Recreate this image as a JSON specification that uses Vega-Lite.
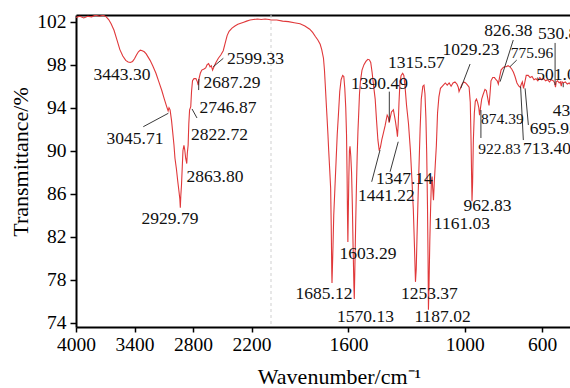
{
  "$schema": "https://vega.github.io/schema/vega-lite/v6.json",
  "width": 494,
  "height": 312,
  "autosize": {"type": "none"},
  "padding": {"left": 76, "top": 15, "right": 0, "bottom": 61},
  "background": "white",
  "config": {
    "view": {"stroke": null},
    "font": "Liberation Serif",
    "axis": {
      "grid": false,
      "domainColor": "black",
      "domainWidth": 2,
      "tickColor": "black",
      "tickWidth": 1.5,
      "labelColor": "black",
      "labelFont": "Liberation Serif",
      "labelFontSize": 19.5,
      "titleFont": "Liberation Serif",
      "titleFontWeight": "normal",
      "titleColor": "black",
      "titleFontSize": 22
    }
  },
  "datasets": {
    "spectrum": [
      {"wn":4000,"t":102.4},{"wn":3960,"t":102.5},{"wn":3920,"t":102.35},{"wn":3880,"t":102.5},{"wn":3840,"t":102.45},{"wn":3800,"t":102.6},{"wn":3760,"t":102.5},{"wn":3720,"t":102.6},{"wn":3690,"t":102.45},{"wn":3665,"t":102.2},{"wn":3640,"t":101.8},{"wn":3610,"t":101.2},{"wn":3580,"t":100.3},{"wn":3550,"t":99.4},{"wn":3520,"t":98.8},{"wn":3490,"t":98.4},{"wn":3465,"t":98.25},{"wn":3443,"t":98.2},{"wn":3420,"t":98.3},{"wn":3400,"t":98.55},{"wn":3380,"t":98.9},{"wn":3360,"t":99.2},{"wn":3340,"t":99.35},{"wn":3320,"t":99.3},{"wn":3300,"t":99.2},{"wn":3280,"t":99.0},{"wn":3260,"t":98.7},{"wn":3240,"t":98.4},{"wn":3213,"t":97.9},{"wn":3180,"t":97.2},{"wn":3150,"t":96.4},{"wn":3120,"t":95.6},{"wn":3094,"t":94.8},{"wn":3070,"t":94.1},{"wn":3055,"t":93.7},{"wn":3046,"t":94.0},{"wn":3035,"t":93.8},{"wn":3020,"t":92.8},{"wn":3008,"t":91.7},{"wn":2995,"t":90.5},{"wn":2985,"t":89.3},{"wn":2970,"t":88.3},{"wn":2957,"t":87.2},{"wn":2945,"t":86.3},{"wn":2935,"t":85.5},{"wn":2930,"t":84.7},{"wn":2925,"t":85.8},{"wn":2918,"t":86.8},{"wn":2910,"t":88.5},{"wn":2903,"t":90.0},{"wn":2893,"t":90.5},{"wn":2885,"t":90.1},{"wn":2875,"t":89.3},{"wn":2864,"t":88.8},{"wn":2858,"t":89.8},{"wn":2850,"t":90.5},{"wn":2843,"t":92.5},{"wn":2835,"t":93.8},{"wn":2823,"t":94.1},{"wn":2815,"t":95.5},{"wn":2805,"t":96.5},{"wn":2790,"t":96.7},{"wn":2770,"t":96.7},{"wn":2755,"t":96.4},{"wn":2747,"t":96.1},{"wn":2738,"t":96.7},{"wn":2725,"t":97.2},{"wn":2710,"t":97.5},{"wn":2687,"t":97.6},{"wn":2670,"t":97.7},{"wn":2655,"t":98.0},{"wn":2640,"t":98.1},{"wn":2625,"t":97.8},{"wn":2612,"t":97.9},{"wn":2599,"t":97.5},{"wn":2585,"t":97.8},{"wn":2565,"t":98.2},{"wn":2540,"t":98.6},{"wn":2515,"t":98.9},{"wn":2490,"t":99.3},{"wn":2470,"t":100.0},{"wn":2450,"t":100.7},{"wn":2430,"t":101.1},{"wn":2400,"t":101.4},{"wn":2370,"t":101.6},{"wn":2340,"t":101.75},{"wn":2310,"t":101.85},{"wn":2280,"t":101.95},{"wn":2250,"t":102.05},{"wn":2215,"t":102.15},{"wn":2180,"t":102.2},{"wn":2140,"t":102.25},{"wn":2100,"t":102.2},{"wn":2060,"t":102.25},{"wn":2020,"t":102.2},{"wn":2000,"t":102.15},{"wn":1970,"t":102.15},{"wn":1940,"t":102.05},{"wn":1910,"t":102.0},{"wn":1880,"t":101.9},{"wn":1850,"t":101.8},{"wn":1825,"t":101.6},{"wn":1800,"t":101.3},{"wn":1785,"t":101.0},{"wn":1770,"t":100.6},{"wn":1758,"t":100.3},{"wn":1746,"t":99.9},{"wn":1738,"t":99.4},{"wn":1729,"t":98.6},{"wn":1724,"t":97.5},{"wn":1720,"t":96.2},{"wn":1715,"t":94.5},{"wn":1711,"t":93.2},{"wn":1706,"t":91.5},{"wn":1702,"t":90.0},{"wn":1697,"t":88.3},{"wn":1692,"t":86.5},{"wn":1689,"t":83.0},{"wn":1686,"t":78.5},{"wn":1685,"t":77.7},{"wn":1683,"t":79.0},{"wn":1680,"t":81.0},{"wn":1676,"t":84.0},{"wn":1670,"t":86.5},{"wn":1664,"t":89.0},{"wn":1658,"t":91.5},{"wn":1652,"t":93.3},{"wn":1645,"t":95.5},{"wn":1638,"t":96.6},{"wn":1630,"t":97.0},{"wn":1624,"t":96.9},{"wn":1619,"t":95.8},{"wn":1614,"t":94.0},{"wn":1610,"t":91.5},{"wn":1607,"t":87.5},{"wn":1605,"t":84.0},{"wn":1603,"t":81.5},{"wn":1601,"t":84.0},{"wn":1598,"t":87.5},{"wn":1595,"t":90.0},{"wn":1592,"t":90.4},{"wn":1588,"t":89.5},{"wn":1584,"t":88.0},{"wn":1580,"t":85.0},{"wn":1576,"t":81.0},{"wn":1572,"t":77.5},{"wn":1570,"t":76.2},{"wn":1567,"t":79.0},{"wn":1563,"t":83.0},{"wn":1559,"t":86.5},{"wn":1555,"t":89.5},{"wn":1551,"t":91.8},{"wn":1547,"t":93.5},{"wn":1543,"t":95.3},{"wn":1538,"t":96.5},{"wn":1530,"t":97.5},{"wn":1520,"t":98.0},{"wn":1510,"t":98.3},{"wn":1500,"t":98.5},{"wn":1492,"t":98.45},{"wn":1485,"t":98.2},{"wn":1478,"t":97.3},{"wn":1470,"t":96.0},{"wn":1462,"t":94.8},{"wn":1455,"t":92.8},{"wn":1448,"t":91.0},{"wn":1441,"t":90.0},{"wn":1435,"t":90.3},{"wn":1428,"t":91.0},{"wn":1420,"t":91.6},{"wn":1411,"t":92.3},{"wn":1400,"t":93.3},{"wn":1394,"t":93.1},{"wn":1390,"t":92.6},{"wn":1385,"t":93.0},{"wn":1378,"t":93.6},{"wn":1368,"t":93.8},{"wn":1358,"t":92.8},{"wn":1350,"t":91.8},{"wn":1347,"t":91.3},{"wn":1343,"t":92.5},{"wn":1339,"t":94.5},{"wn":1334,"t":96.4},{"wn":1328,"t":97.0},{"wn":1320,"t":97.2},{"wn":1314,"t":97.0},{"wn":1308,"t":96.0},{"wn":1300,"t":94.2},{"wn":1290,"t":92.5},{"wn":1280,"t":90.0},{"wn":1272,"t":87.2},{"wn":1265,"t":84.5},{"wn":1259,"t":81.0},{"wn":1254,"t":77.8},{"wn":1250,"t":79.0},{"wn":1246,"t":82.0},{"wn":1240,"t":86.0},{"wn":1235,"t":89.0},{"wn":1230,"t":92.0},{"wn":1224,"t":94.8},{"wn":1216,"t":96.0},{"wn":1210,"t":96.1},{"wn":1205,"t":95.3},{"wn":1200,"t":93.0},{"wn":1196,"t":89.8},{"wn":1192,"t":85.0},{"wn":1189,"t":80.0},{"wn":1187,"t":75.2},{"wn":1184,"t":77.5},{"wn":1180,"t":81.5},{"wn":1176,"t":84.5},{"wn":1172,"t":87.0},{"wn":1168,"t":87.6},{"wn":1165,"t":86.5},{"wn":1161,"t":85.4},{"wn":1157,"t":87.0},{"wn":1152,"t":88.6},{"wn":1146,"t":90.5},{"wn":1140,"t":93.5},{"wn":1133,"t":95.0},{"wn":1125,"t":95.8},{"wn":1110,"t":96.1},{"wn":1100,"t":96.3},{"wn":1090,"t":96.1},{"wn":1080,"t":96.3},{"wn":1070,"t":96.0},{"wn":1060,"t":96.3},{"wn":1050,"t":96.4},{"wn":1040,"t":96.2},{"wn":1033,"t":95.9},{"wn":1029,"t":95.5},{"wn":1022,"t":95.8},{"wn":1013,"t":96.2},{"wn":1004,"t":96.4},{"wn":995,"t":96.3},{"wn":985,"t":96.1},{"wn":977,"t":95.9},{"wn":971,"t":94.5},{"wn":967,"t":91.0},{"wn":964,"t":87.5},{"wn":962,"t":85.3},{"wn":959,"t":87.0},{"wn":955,"t":91.0},{"wn":950,"t":93.5},{"wn":945,"t":94.6},{"wn":939,"t":94.8},{"wn":933,"t":94.5},{"wn":927,"t":94.0},{"wn":923,"t":93.3},{"wn":918,"t":94.0},{"wn":912,"t":94.8},{"wn":905,"t":95.2},{"wn":895,"t":95.7},{"wn":888,"t":95.6},{"wn":882,"t":95.0},{"wn":878,"t":94.6},{"wn":874,"t":94.2},{"wn":869,"t":95.3},{"wn":864,"t":96.5},{"wn":855,"t":96.8},{"wn":846,"t":96.8},{"wn":838,"t":96.6},{"wn":832,"t":96.5},{"wn":826,"t":96.2},{"wn":820,"t":96.8},{"wn":812,"t":97.5},{"wn":803,"t":97.7},{"wn":795,"t":97.8},{"wn":785,"t":97.8},{"wn":776,"t":97.9},{"wn":766,"t":97.8},{"wn":757,"t":97.6},{"wn":748,"t":97.3},{"wn":740,"t":96.9},{"wn":730,"t":96.3},{"wn":720,"t":96.0},{"wn":713,"t":95.9},{"wn":707,"t":96.2},{"wn":702,"t":96.4},{"wn":696,"t":95.8},{"wn":690,"t":96.3},{"wn":682,"t":97.0},{"wn":672,"t":97.0},{"wn":662,"t":96.8},{"wn":652,"t":96.9},{"wn":642,"t":96.6},{"wn":632,"t":96.7},{"wn":622,"t":96.5},{"wn":612,"t":96.8},{"wn":602,"t":96.6},{"wn":592,"t":96.7},{"wn":582,"t":96.5},{"wn":572,"t":96.6},{"wn":562,"t":96.4},{"wn":552,"t":96.6},{"wn":542,"t":96.5},{"wn":535,"t":96.3},{"wn":531,"t":95.9},{"wn":527,"t":96.4},{"wn":520,"t":96.5},{"wn":512,"t":96.3},{"wn":506,"t":96.4},{"wn":501,"t":96.0},{"wn":497,"t":96.4},{"wn":490,"t":96.3},{"wn":480,"t":96.4},{"wn":470,"t":96.2},{"wn":460,"t":96.3},{"wn":450,"t":96.1},{"wn":440,"t":96.2},{"wn":436,"t":95.7},{"wn":430,"t":96.1}
    ],
    "labels": [
      {"label":"3443.30","wn":3528,"t":97.04},
      {"label":"3045.71","wn":3395,"t":91.09},
      {"label":"2929.79","wn":3036,"t":83.64},
      {"label":"2863.80","wn":2574,"t":87.55},
      {"label":"2822.72","wn":2528,"t":91.46},
      {"label":"2746.87","wn":2441,"t":93.97},
      {"label":"2687.29","wn":2400,"t":96.29},
      {"label":"2599.33","wn":2159,"t":98.53},
      {"label":"1685.12","wn":1726,"t":76.67},
      {"label":"1603.29","wn":1499,"t":80.39},
      {"label":"1570.13","wn":1512,"t":74.53},
      {"label":"1441.22","wn":1404,"t":85.74},
      {"label":"1390.49","wn":1440,"t":96.2},
      {"label":"1347.14","wn":1311,"t":87.41},
      {"label":"1315.57","wn":1249,"t":98.11},
      {"label":"1253.37","wn":1182,"t":76.67},
      {"label":"1187.02","wn":1114,"t":74.53},
      {"label":"1161.03","wn":1014,"t":83.22},
      {"label":"1029.23","wn":967,"t":99.36},
      {"label":"962.83","wn":882,"t":84.81},
      {"label":"922.83","wn":820,"t":90.11},
      {"label":"874.39","wn":805,"t":92.95},
      {"label":"826.38","wn":774,"t":101.09},
      {"label":"775.96","wn":652,"t":99.13},
      {"label":"713.40","wn":575,"t":90.11},
      {"label":"695.93","wn":540,"t":92.06},
      {"label":"530.85","wn":497,"t":100.85},
      {"label":"501.03","wn":506,"t":97.04},
      {"label":"436.57","wn":421,"t":93.69}
    ],
    "leaders": [
      {"x1":3310,"y1":92.23,"x2":3053,"y2":93.48},
      {"x1":2810,"y1":93.88,"x2":2759,"y2":93.04},
      {"x1":2740,"y1":96.67,"x2":2742,"y2":95.64},
      {"x1":2592,"y1":97.81,"x2":2489,"y2":98.59},
      {"x1":1480,"y1":87.11,"x2":1437,"y2":90.06},
      {"x1":1385,"y1":88.04,"x2":1343,"y2":90.83},
      {"x1":1389,"y1":95.49,"x2":1389,"y2":92.7},
      {"x1":972,"y1":98.06,"x2":1020,"y2":95.8},
      {"x1":749,"y1":100.29,"x2":817,"y2":96.42},
      {"x1":731,"y1":98.43,"x2":766,"y2":97.81},
      {"x1":916,"y1":93.78,"x2":916,"y2":91.18},
      {"x1":711,"y1":95.95,"x2":697,"y2":90.99},
      {"x1":688,"y1":95.8,"x2":671,"y2":92.39},
      {"x1":533,"y1":100.02,"x2":533,"y2":96.11},
      {"x1":491,"y1":96.3,"x2":491,"y2":95.9}
    ]
  },
  "layer": [
    {
      "data": {"values": [{"wn": 2000}]},
      "mark": {"type": "rule", "color": "#cfcfcf", "strokeDash": [3, 3], "strokeWidth": 1},
      "encoding": {
        "x": {"field": "wn", "type": "quantitative",
          "axis": {"orient": "top", "labels": false, "ticks": false, "title": null, "domainColor": "black", "domainWidth": 2}}
      }
    },
    {
      "data": {"name": "spectrum"},
      "mark": {"type": "line", "color": "#e0383a", "strokeWidth": 1.1, "clip": true},
      "encoding": {
        "x": {"field": "wn", "type": "quantitative",
          "scale": {"domain": [4000, 2000, 456], "range": [0, 195, 494], "nice": false, "zero": false},
          "axis": {"orient": "bottom", "values": [4000, 3400, 2800, 2200, 1600, 1000, 600], "format": "d",
            "tickSize": 5, "labelPadding": 3, "labelFlush": false, "labelOverlap": false,
            "title": "Wavenumber/cm⁻¹", "titleX": 263, "titleY": 56.5, "titleBaseline": "alphabetic", "titleAlign": "center"}},
        "y": {"field": "t", "type": "quantitative",
          "scale": {"domain": [73.6, 102.62], "nice": false, "zero": false},
          "axis": {"values": [74, 78, 82, 86, 90, 94, 98, 102], "tickSize": 6, "labelPadding": 4,
            "title": "Transmittance/%", "titleX": -49, "titleY": 146.5, "titleBaseline": "alphabetic", "titleAlign": "center", "titleAngle": -90}}
      }
    },
    {
      "data": {"name": "leaders"},
      "mark": {"type": "rule", "color": "#222222", "strokeWidth": 0.9},
      "encoding": {
        "x": {"field": "x1", "type": "quantitative", "axis": null},
        "x2": {"field": "x2"},
        "y": {"field": "y1", "type": "quantitative"},
        "y2": {"field": "y2"}
      }
    },
    {
      "data": {"name": "labels"},
      "transform": [{"filter": "indexof(['874.39','922.83','775.96'], datum.label) < 0"}],
      "mark": {"type": "text", "font": "Liberation Serif", "fontSize": 17.5, "color": "#111111", "align": "center", "baseline": "middle"},
      "encoding": {
        "x": {"field": "wn", "type": "quantitative", "axis": null},
        "y": {"field": "t", "type": "quantitative"},
        "text": {"field": "label"}
      }
    },
    {
      "data": {"name": "labels"},
      "transform": [{"filter": "indexof(['874.39','922.83','775.96'], datum.label) >= 0"}],
      "mark": {"type": "text", "font": "Liberation Serif", "fontSize": 15.5, "color": "#111111", "align": "center", "baseline": "middle"},
      "encoding": {
        "x": {"field": "wn", "type": "quantitative", "axis": null},
        "y": {"field": "t", "type": "quantitative"},
        "text": {"field": "label"}
      }
    }
  ],
  "resolve": {"axis": {"x": "independent"}}
}
